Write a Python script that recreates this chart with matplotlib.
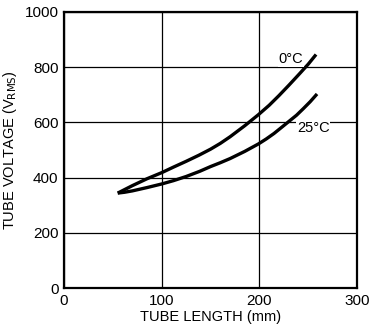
import matplotlib
matplotlib.use("Agg")
import matplotlib.pyplot as plt

plt.rcParams['font.family'] = ['Liberation Sans', 'DejaVu Sans']

# curve values
len_0c = [55, 70, 85, 100, 112, 125, 138, 150, 160, 170, 185, 199, 210, 220, 230, 241, 250, 258]
volt_0c = [344, 371, 396, 418, 438, 459, 481, 503, 524, 548, 588, 628, 662, 697, 734, 776, 811, 846]
len_25c = [55, 62, 70, 85, 100, 112, 125, 139, 150, 160, 170, 185, 199, 207, 215, 222, 230, 238, 245, 252, 259]
volt_25c = [344, 347, 352, 364, 377, 389, 404, 423, 440, 454, 469, 495, 522, 540, 560, 580, 603, 626, 650, 675, 703]

xticks = [0, 100, 200, 300]
yticks = [0, 200, 400, 600, 800, 1000]

fig = plt.figure(figsize=(3.71, 3.33), dpi=100)
ax = fig.add_axes([0.1725, 0.135, 0.79, 0.829])

ax.plot(len_0c, volt_0c, color='black', lw=2.4, solid_capstyle='butt', solid_joinstyle='round')
ax.plot(len_25c, volt_25c, color='black', lw=2.4, solid_capstyle='butt', solid_joinstyle='round')

ax.text(232, 830, '0°C', fontsize=10.5, ha='center', va='center',
        bbox=dict(facecolor='white', edgecolor='none', pad=0.5))
ax.text(255, 578, '25°C', fontsize=10.5, ha='center', va='center',
        bbox=dict(facecolor='white', edgecolor='none', pad=0.5))

ax.set_xlim(0, 300)
ax.set_ylim(0, 1000)
ax.set_xticks(xticks)
ax.set_yticks(yticks)
ax.grid(True, color='black', lw=0.9)
ax.set_axisbelow(True)
ax.tick_params(length=0, labelsize=11, pad=4)
for s in ax.spines.values():
    s.set_linewidth(1.6)

ax.set_xlabel('TUBE LENGTH (mm)', fontsize=10.5, labelpad=2)
ax.set_ylabel('TUBE VOLTAGE (V$_{\\mathrm{RMS}}$)', fontsize=10.5, labelpad=4)

fig.savefig('out.png', dpi=100)
